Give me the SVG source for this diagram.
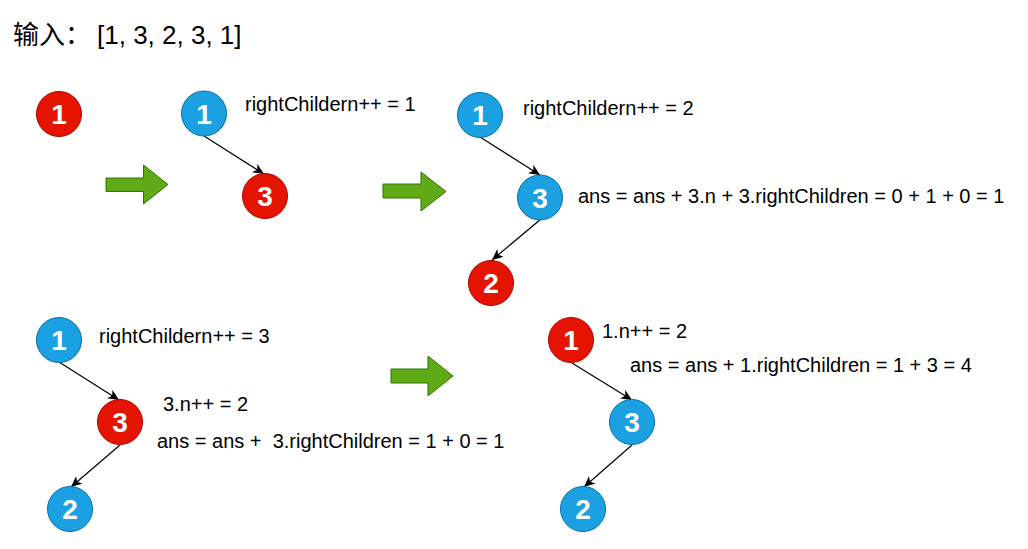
<svg xmlns="http://www.w3.org/2000/svg" width="1028" height="549" viewBox="0 0 1028 549">
<style>
.bg{fill:#ffffff}
.red{fill:#e51400;stroke:#b20000;stroke-width:1}
.blue{fill:#1ba1e2;stroke:#006eaf;stroke-width:1}
.num{font-family:"Liberation Sans",Arial,sans-serif;font-weight:bold;font-size:28px;fill:#ffffff;text-anchor:middle}
.lbl{font-family:"Liberation Sans",Arial,sans-serif;font-size:20px;fill:#000000;white-space:pre}
.title{font-family:"Liberation Sans","Noto Sans CJK SC",sans-serif;font-size:26px;fill:#000000}
.arrow{fill:#60a917;stroke:#2d7600;stroke-width:1}
.edge{stroke:#000000;stroke-width:1.2;fill:none;marker-end:url(#ah)}
</style>
<defs>
<marker id="ah" markerUnits="userSpaceOnUse" markerWidth="12" markerHeight="10" refX="11" refY="5" orient="auto">
<path d="M0,0 L11,5 L0,10 L3,5 z" fill="#000000"/>
</marker>
</defs>
<rect class="bg" x="0" y="0" width="1028" height="549"/>
<g id="title">
<text class="title" y="44"><tspan x="13">输入：</tspan><tspan x="97">[1, 3, 2, 3, 1]</tspan></text>
</g>
<g id="connectors">
<line class="edge" x1="204" y1="136" x2="264" y2="174"/>
<line class="edge" x1="480" y1="137" x2="540" y2="175"/>
<line class="edge" x1="541" y1="219" x2="492" y2="260"/>
<line class="edge" x1="59" y1="362" x2="119" y2="400"/>
<line class="edge" x1="120" y1="445" x2="71" y2="487"/>
<line class="edge" x1="572" y1="363" x2="632" y2="400"/>
<line class="edge" x1="632" y1="445" x2="584" y2="487"/>
</g>
<g id="arrow1"><path class="arrow" d="M106,178 H143.5 V165 L168,184.5 L143.5,204 V191.5 H106 Z"/></g>
<g id="arrow2"><path class="arrow" d="M383,184 H421 V172 L446,191.5 L421,211 V198 H383 Z"/></g>
<g id="arrow3"><path class="arrow" d="M391,369 H428 V356 L453,376 L428,396 V383 H391 Z"/></g>
<g id="p1-n1"><circle class="red" cx="59" cy="114" r="22.5"/><text class="num" x="59" y="124">1</text></g>
<g id="p2-n1"><circle class="blue" cx="204" cy="113.5" r="22.5"/><text class="num" x="204" y="123.5">1</text></g>
<g id="p2-n3"><circle class="red" cx="265" cy="196" r="22.5"/><text class="num" x="265" y="206">3</text></g>
<g id="p2-label"><text class="lbl" x="245" y="111">rightChildern++ = 1</text></g>
<g id="p3-n1"><circle class="blue" cx="480" cy="115" r="22.5"/><text class="num" x="480" y="125">1</text></g>
<g id="p3-n3"><circle class="blue" cx="540" cy="197.5" r="22.5"/><text class="num" x="540" y="207.5">3</text></g>
<g id="p3-n2"><circle class="red" cx="491" cy="283" r="22.5"/><text class="num" x="491" y="293">2</text></g>
<g id="p3-label1"><text class="lbl" x="523" y="115">rightChildern++ = 2</text></g>
<g id="p3-label2"><text class="lbl" x="578" y="203">ans = ans + 3.n + 3.rightChildren = 0 + 1 + 0 = 1</text></g>
<g id="p4-n1"><circle class="blue" cx="59" cy="340" r="22.5"/><text class="num" x="59" y="350">1</text></g>
<g id="p4-n3"><circle class="red" cx="120" cy="422" r="22.5"/><text class="num" x="120" y="432">3</text></g>
<g id="p4-n2"><circle class="blue" cx="70" cy="509" r="22.5"/><text class="num" x="70" y="519">2</text></g>
<g id="p4-label1"><text class="lbl" x="99" y="343">rightChildern++ = 3</text></g>
<g id="p4-label2"><text class="lbl" x="163" y="411">3.n++ = 2</text></g>
<g id="p4-label3"><text class="lbl" x="157" y="448" xml:space="preserve">ans = ans +  3.rightChildren = 1 + 0 = 1</text></g>
<g id="p5-n1"><circle class="red" cx="571" cy="340" r="22.5"/><text class="num" x="571" y="350">1</text></g>
<g id="p5-n3"><circle class="blue" cx="632" cy="422" r="22.5"/><text class="num" x="632" y="432">3</text></g>
<g id="p5-n2"><circle class="blue" cx="583" cy="509" r="22.5"/><text class="num" x="583" y="519">2</text></g>
<g id="p5-label1"><text class="lbl" x="602" y="338">1.n++ = 2</text></g>
<g id="p5-label2"><text class="lbl" x="630" y="372">ans = ans + 1.rightChildren = 1 + 3 = 4</text></g>
</svg>
